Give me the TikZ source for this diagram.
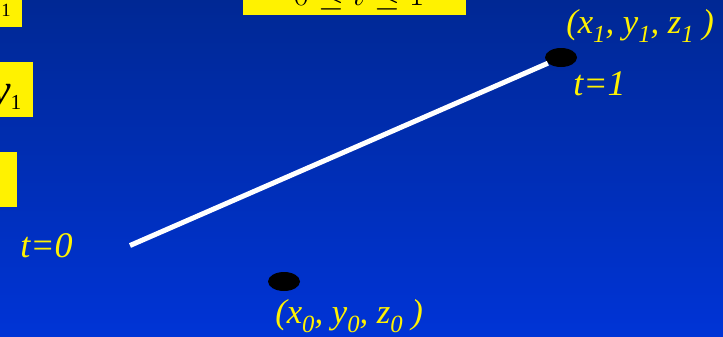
\documentclass[tikz,border=0pt]{standalone}
\usepackage{fontspec}
\setmainfont{Liberation Serif}
\usetikzlibrary{shapes.geometric}

\definecolor{slidetop}{RGB}{0,40,148}
\definecolor{slidebot}{RGB}{0,52,214}
\newcommand{\lowsub}[1]{\raisebox{-0.27em}{\fontsize{18.5pt}{18.5pt}\selectfont #1}}
\newcommand{\boxsub}[2]{\raisebox{-0.12em}{\fontsize{#1}{#1}\selectfont #2}}

\tikzset{
  coord text/.style={text=yellow, inner sep=0pt, font=\fontsize{26pt}{26pt}\selectfont\itshape},
  tag text/.style={text=yellow, inner sep=0pt, font=\fontsize{27pt}{27pt}\selectfont\itshape},
  box text/.style={text=black, inner sep=0pt, font=\fontsize{33pt}{33pt}\selectfont},
  end point/.style={ellipse, fill=black, minimum width=24pt, minimum height=14.25pt, inner sep=0pt},
  hibox/.style={fill=yellow}
}

\begin{document}
\begin{tikzpicture}[x=0.75pt,y=-0.75pt]
\clip (0,0) rectangle (723,336);
\shade[top color=slidetop,bottom color=slidebot] (0,0) rectangle (723,336);

% yellow boxes, cut by the frame
\fill[hibox] (-5,-5) rectangle (22,27);
\fill[hibox] (-5,62) rectangle (33,117);
\fill[hibox] (-5,152) rectangle (17,207);
\fill[hibox] (243,-40) rectangle (466,15);

\node[box text, anchor=base east] (xone) at (11,11) {\textit{x}\boxsub{14pt}{1}};
\node[box text, anchor=base east] (yone) at (21.5,104.5) {\textit{y}\boxsub{16pt}{1}};
\node[box text, anchor=base, font=\fontsize{39.5pt}{39.5pt}\selectfont] (range) at (359,5) {$0\le t\le 1$};

% the segment
\coordinate (start) at (130,245.5);
\node[end point] (pone) at (561,57.5) {};
\node[end point] (pzero) at (284,281.5) {};
\draw[white, line width=3.75pt] (start) -- (pone);

\node[coord text, anchor=base west] (cone) at (566,33.5) {(x\lowsub{1}, y\lowsub{1}, z\lowsub{1} )};
\node[tag text, anchor=base west] (tone) at (573,95) {t=1};
\node[tag text, anchor=base west] (tzero) at (20,257) {t=0};
\node[coord text, anchor=base west] (czero) at (275,323) {(x\lowsub{0}, y\lowsub{0}, z\lowsub{0} )};
\end{tikzpicture}
\end{document}
